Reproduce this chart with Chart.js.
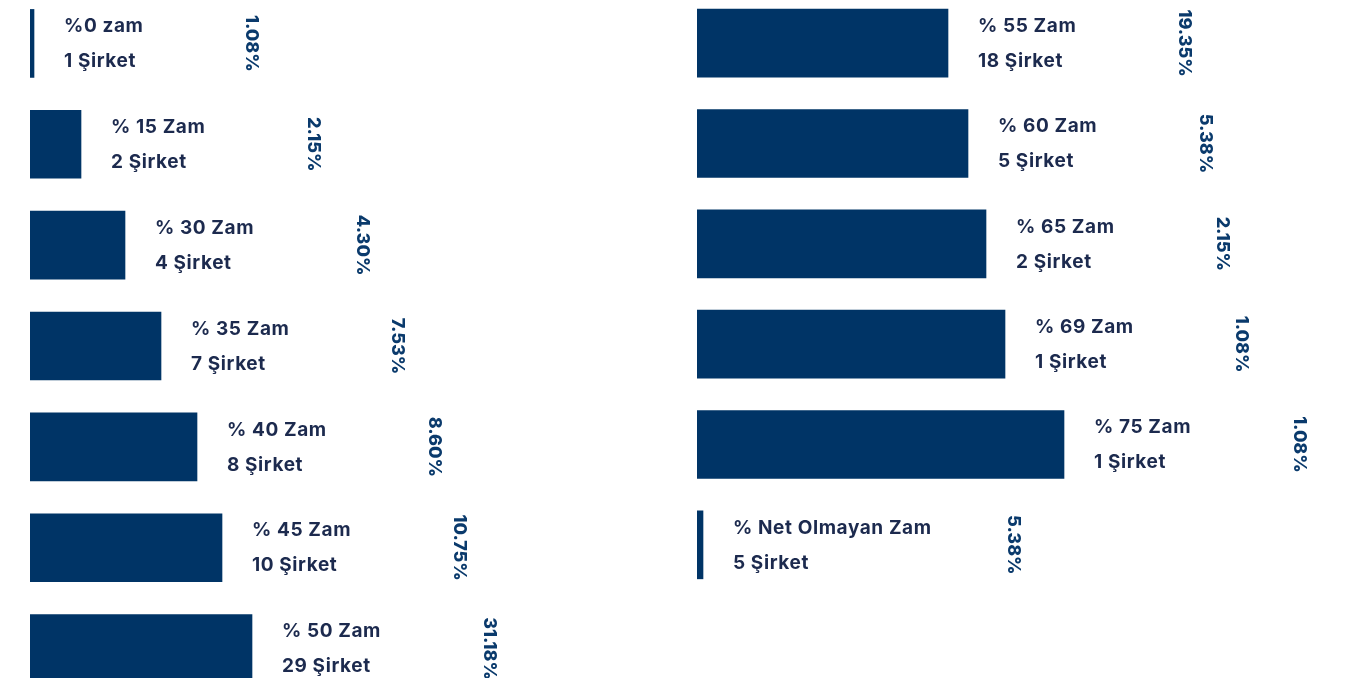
<!DOCTYPE html>
<html>
  <head>
    <title>Zam Dağılımı</title>
    <script src="https://cdn.jsdelivr.net/npm/chart.js"></script>
    <style>
      html, body { margin: 0; padding: 0; background: #fff; overflow: hidden; }
      #wrap { position: relative; width: 1348px; height: 678px; overflow: hidden; }
      .box { position: absolute; top: -7px; width: 674px; height: 706px; }
    </style>
  </head>

  <body>
    <div id="wrap">
      <div class="box" style="left: 0"><canvas id="leftChart"></canvas></div>
      <div class="box" style="left: 674px"><canvas id="rightChart"></canvas></div>
    </div>

    <script>
      // left column
      var leftTitles = ["%0 zam", "% 15 Zam", "% 30 Zam", "% 35 Zam", "% 40 Zam", "% 45 Zam", "% 50 Zam"];
      var leftCounts = ["1 Şirket", "2 Şirket", "4 Şirket", "7 Şirket", "8 Şirket", "10 Şirket", "29 Şirket"];
      var leftShares = ["1.08%", "2.15%", "4.30%", "7.53%", "8.60%", "10.75%", "31.18%"];
      var leftBars = [4, 51, 95, 131, 167, 192, 222];

      // right column
      var rightTitles = ["% 55 Zam", "% 60 Zam", "% 65 Zam", "% 69 Zam", "% 75 Zam", "% Net Olmayan Zam"];
      var rightCounts = ["18 Şirket", "5 Şirket", "2 Şirket", "1 Şirket", "1 Şirket", "5 Şirket"];
      var rightShares = ["19.35%", "5.38%", "2.15%", "1.08%", "1.08%", "5.38%"];
      var rightBars = [251, 271, 289, 308, 367, 6];

      var labelFont = "700 19px Inter";
      var shareFont = "800 18px Inter";
      var labelColor = "#1c2a4e";
      var shareColor = "#0a3a6c";
      var barColor = "#003466";

      var labelPlugin = {
        id: "barLabels",
        afterDatasetsDraw: function (chart) {
          var ctx = chart.ctx;
          var meta = chart.getDatasetMeta(0);
          var opts = chart.options.plugins.barLabels;
          ctx.save();
          ctx.textBaseline = "middle";
          meta.data.forEach(function (bar, i) {
            var x = bar.x + 30;
            ctx.letterSpacing = "0.6px";
            ctx.font = labelFont;
            ctx.fillStyle = labelColor;
            ctx.textAlign = "left";
            ctx.fillText(opts.titles[i], x, bar.y - 17);
            ctx.fillText(opts.counts[i], x, bar.y + 18);
            var w = Math.max(ctx.measureText(opts.titles[i]).width, ctx.measureText(opts.counts[i]).width);
            var px = x + Math.min(w + 108, 280);
            ctx.save();
            ctx.translate(px, bar.y);
            ctx.rotate(Math.PI / 2);
            ctx.letterSpacing = "0px";
            ctx.font = shareFont;
            ctx.textAlign = "center";
            ctx.fillStyle = shareColor;
            ctx.fillText(opts.shares[i], 0, 0);
            ctx.restore();
          });
          ctx.restore();
        },
      };

      function makeChart(id, titles, counts, shares, values, padLeft, padBottom) {
        var ctx = document.getElementById(id).getContext("2d");
        return new Chart(ctx, {
          type: "bar",
          data: {
            labels: titles,
            datasets: [
              {
                data: values,
                backgroundColor: barColor,
                borderWidth: 0,
                barThickness: 68,
              },
            ],
          },
          options: {
            indexAxis: "y",
            responsive: true,
            maintainAspectRatio: false,
            animation: false,
            layout: { padding: { left: padLeft, right: 0, top: 0, bottom: padBottom } },
            scales: {
              x: { display: false, min: 0, max: 674 - padLeft },
              y: { display: false },
            },
            plugins: {
              legend: { display: false },
              tooltip: { enabled: false },
              barLabels: { titles: titles, counts: counts, shares: shares },
            },
          },
          plugins: [labelPlugin],
        });
      }

      makeChart("leftChart", leftTitles, leftCounts, leftShares, leftBars, 30, 0);
      makeChart("rightChart", rightTitles, rightCounts, rightShares, rightBars, 23, 104);
    </script>
  </body>
</html>
